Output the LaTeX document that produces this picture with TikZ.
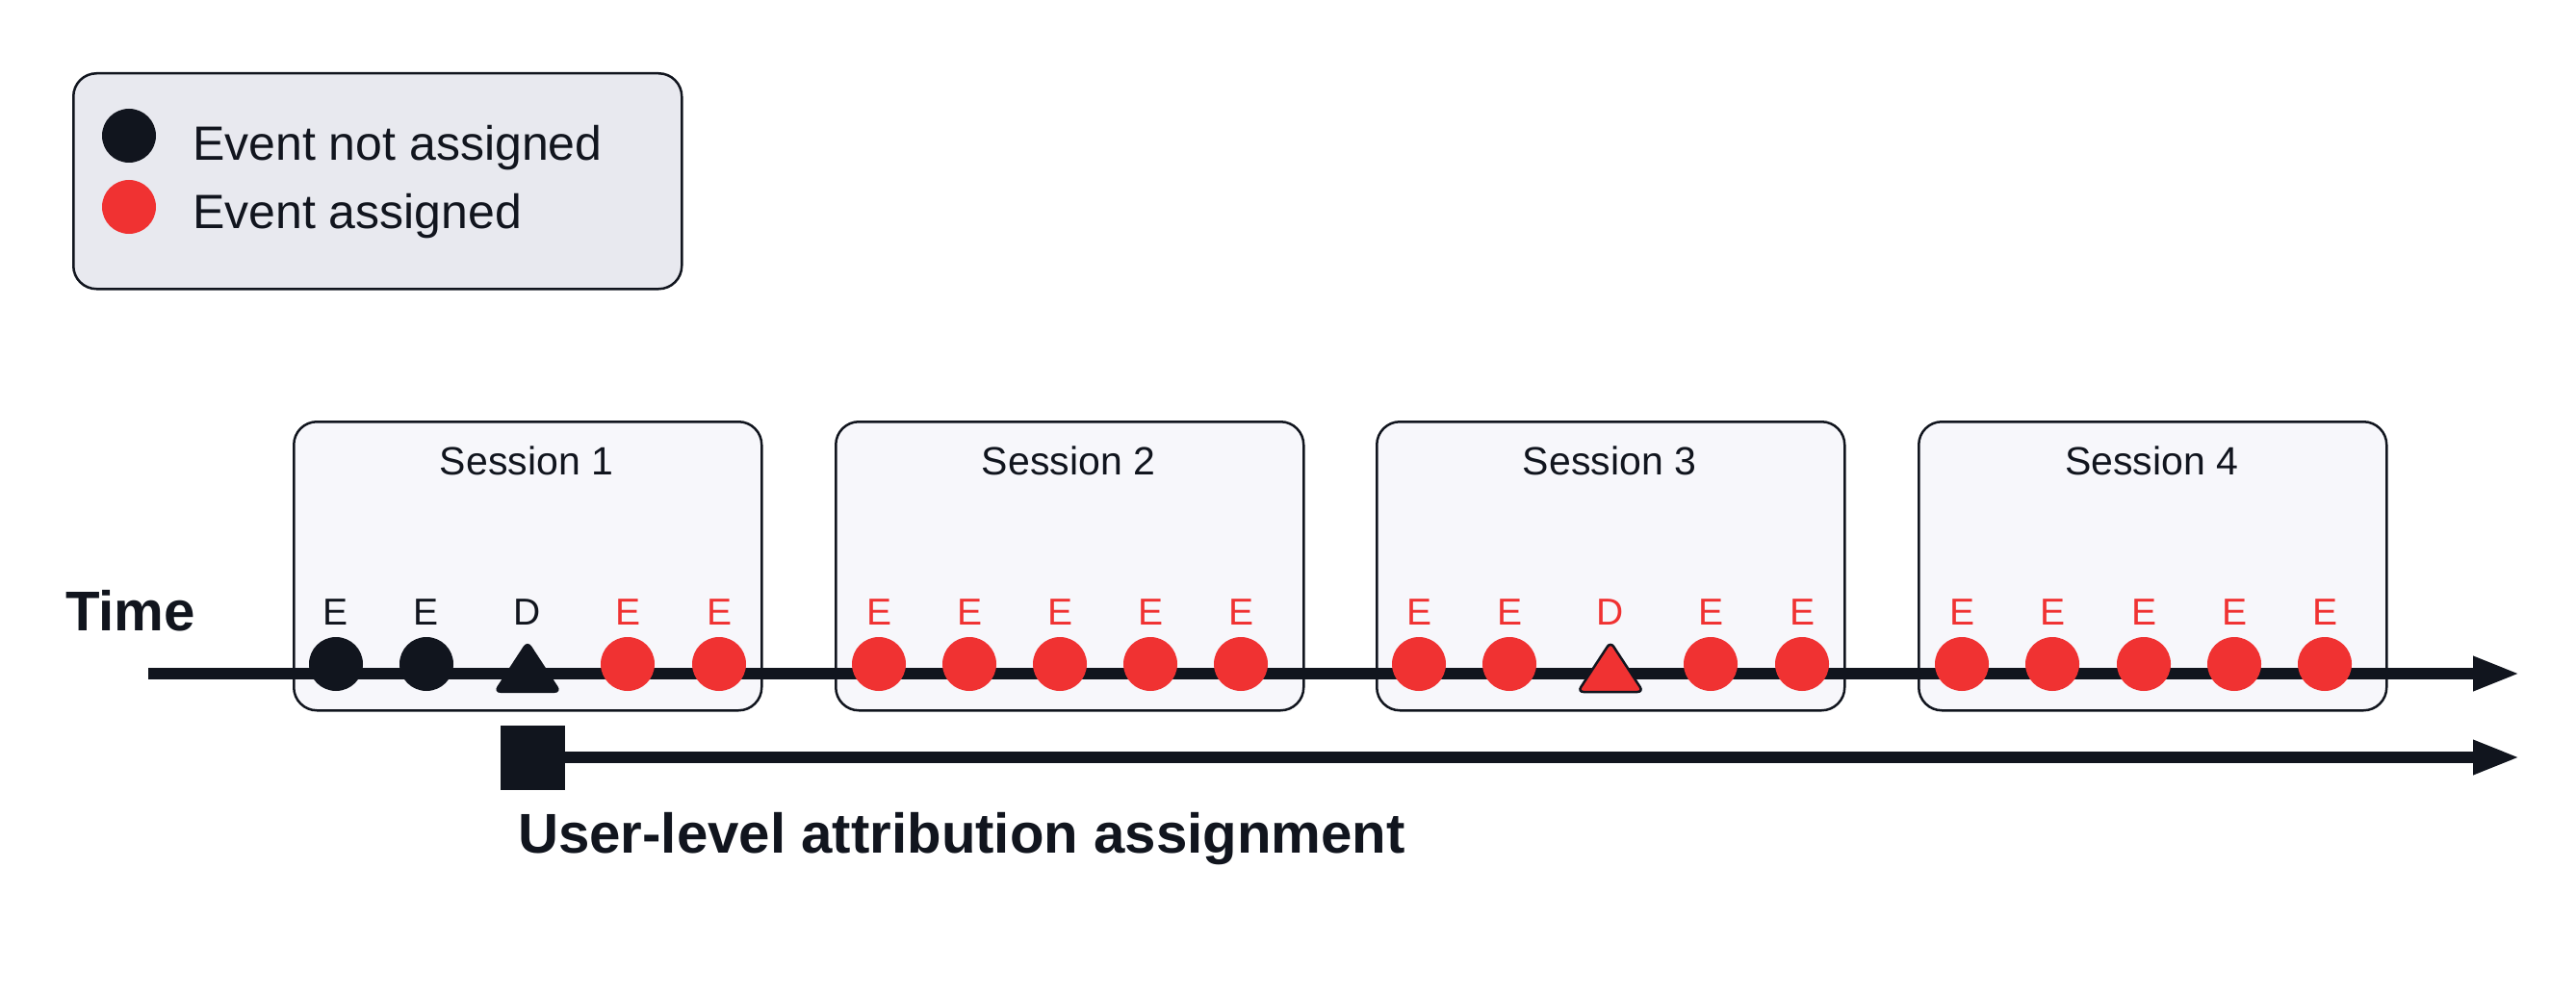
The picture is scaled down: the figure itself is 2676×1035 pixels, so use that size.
\documentclass[tikz,border=0pt]{standalone}
\usepackage{fontspec}
\setmainfont{Liberation Sans}
\usetikzlibrary{arrows.meta,calc}
\definecolor{ink}{RGB}{17,21,30}
\definecolor{evred}{RGB}{240,50,50}
\definecolor{legfill}{RGB}{232,233,239}
\definecolor{sesfill}{RGB}{247,247,251}
\tikzset{
  panel/.style={draw=ink,line width=2.5pt,rounded corners=24pt},
  sesbox/.style={panel,fill=sesfill,minimum width=486pt,minimum height=300pt,anchor=north west,inner sep=0pt},
  legbox/.style={panel,fill=legfill,minimum width=632pt,minimum height=224pt,anchor=north west,inner sep=0pt},
  dot/.style={circle,minimum size=56pt,inner sep=0pt},
  blk/.style={dot,fill=ink},
  rd/.style={dot,fill=evred},
  lbl/.style={font=\fontsize{39}{44}\selectfont,anchor=base,inner sep=0pt},
  lblk/.style={lbl,text=ink},
  lblr/.style={lbl,text=evred},
  sestitle/.style={font=\fontsize{41}{48}\selectfont,text=ink,anchor=base,inner sep=0pt},
  legtext/.style={font=\fontsize{50}{58}\selectfont,text=ink,anchor=base west,inner sep=0pt},
  bigtext/.style={font=\bfseries\fontsize{58.2}{68}\selectfont,text=ink,anchor=base west,inner sep=0pt},
  axis/.style={draw=ink,line width=12pt,-{Triangle[length=49pt,width=33pt]}},
}
\begin{document}
\begin{tikzpicture}[x=1pt,y=-1pt]
\useasboundingbox (0,0) rectangle (2676,1035);
% legend
\node[legbox] (legend) at (75,75) {};
\node[blk] (lk) at (134,141) {};
\node[rd] (lr) at (134,215) {};
\node[legtext] (lt1) at (200,167) {Event not assigned};
\node[legtext] (lt2) at (200,237) {Event assigned};
% sessions
\node[sesbox] (s1) at (304,437) {};
\node[sesbox] (s2) at (867,437) {};
\node[sesbox] (s3) at (1429,437) {};
\node[sesbox] (s4) at (1992,437) {};
\node[sestitle] (t1) at (547,493) {Session 1};
\node[sestitle] (t2) at (1110,493) {Session 2};
\node[sestitle] (t3) at (1672,493) {Session 3};
\node[sestitle] (t4) at (2235,493) {Session 4};
% time axis
\node[bigtext] (time) at (68,655) {Time};
\coordinate (tstart) at (154,700);
\coordinate (tend) at (2618,700);
\draw[axis] (tstart) -- (tend);
% session 1 events
\node[blk] (e11) at (349,690) {};
\node[blk] (e12) at (443,690) {};
\coordinate (d1) at (548,693);
\draw[ink,fill=ink,line width=2pt,rounded corners=6pt] ($(d1)+(-34,26)$) -- ($(d1)+(34,26)$) -- ($(d1)+(0,-26)$) -- cycle;
\node[rd] (e14) at (652,690) {};
\node[rd] (e15) at (747,690) {};
\node[lblk] at (349,649) {E};
\node[lblk] at (443,649) {E};
\node[lblk] at (548,649) {D};
\node[lblr] at (652,649) {E};
\node[lblr] at (747,649) {E};
% session 2 events
\foreach \x [count=\i] in {913,1007,1101,1195,1289} {
  \node[rd] (e2\i) at (\x,690) {};
  \node[lblr] at (\x,649) {E};
}
% session 3 events
\node[rd] (e31) at (1474,690) {};
\node[rd] (e32) at (1568,690) {};
\coordinate (d3) at (1673,693);
\draw[ink,fill=evred,line width=2.5pt,rounded corners=6pt] ($(d3)+(-34,26)$) -- ($(d3)+(34,26)$) -- ($(d3)+(0,-26)$) -- cycle;
\node[rd] (e34) at (1777,690) {};
\node[rd] (e35) at (1872,690) {};
\node[lblr] at (1474,649) {E};
\node[lblr] at (1568,649) {E};
\node[lblr] at (1673,649) {D};
\node[lblr] at (1777,649) {E};
\node[lblr] at (1872,649) {E};
% session 4 events
\foreach \x [count=\i] in {2038,2132,2227,2321,2415} {
  \node[rd] (e4\i) at (\x,690) {};
  \node[lblr] at (\x,649) {E};
}
% user-level assignment
\node[fill=ink,minimum size=67pt,inner sep=0pt] (sq) at (553,787) {};
\coordinate (uend) at (2618,787);
\draw[axis] (sq.east) -- (uend);
\node[bigtext] (ula) at (538,886) {User-level attribution assignment};
\end{tikzpicture}
\end{document}
